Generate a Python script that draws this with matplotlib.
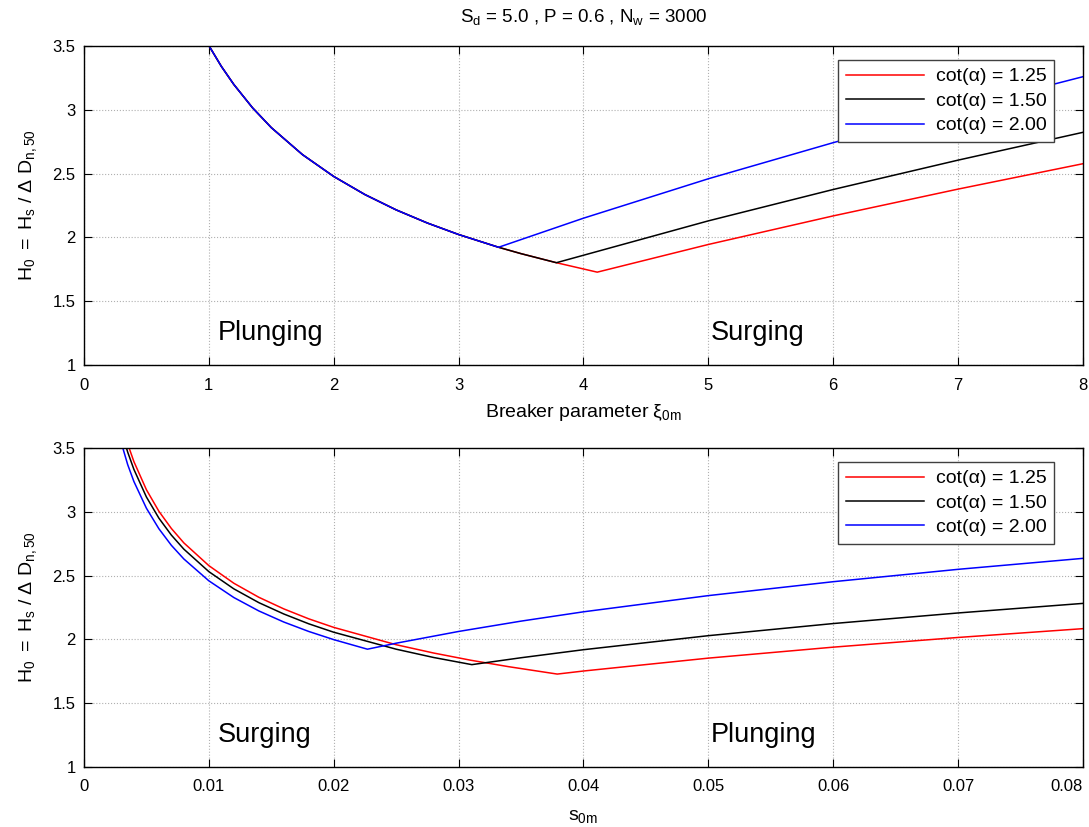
import numpy as np
import matplotlib
matplotlib.use("Agg")
import matplotlib.pyplot as plt
from matplotlib.ticker import FormatStrFormatter, FuncFormatter

plt.rcParams['font.family'] = ['Liberation Sans', 'DejaVu Sans']
plt.rcParams['mathtext.fontset'] = 'custom'
plt.rcParams['mathtext.rm'] = 'Liberation Sans'
plt.rcParams['mathtext.it'] = 'Liberation Sans:italic'

# ---------------------------
# data
# ---------------------------
labels = ['cot(α) = 1.25', 'cot(α) = 1.50', 'cot(α) = 2.00']
colors = ['red', 'black', 'blue']

# top panel: H0 against breaker parameter xi_0m
xi_plunge = [1.0, 1.1, 1.2, 1.35, 1.5, 1.75, 2.0, 2.25, 2.5, 2.75, 3.0, 3.32, 3.5, 3.783, 4.11]
h_plunge = [3.504, 3.341, 3.199, 3.016, 2.861, 2.649, 2.478, 2.336, 2.216, 2.113, 2.023, 1.923, 1.873, 1.802, 1.728]

xi_red = [4.11, 5.0, 6.0, 7.0, 8.0]
h_red = [1.728, 1.945, 2.169, 2.379, 2.578]
xi_black = [3.783, 5.0, 6.0, 7.0, 8.0]
h_black = [1.802, 2.130, 2.376, 2.606, 2.824]
xi_blue = [3.32, 4.0, 5.0, 6.0, 7.0, 8.0]
h_blue = [1.923, 2.151, 2.460, 2.743, 3.009, 3.260]

# bottom panel: H0 against wave steepness s_0m
s_red = [0.0035, 0.004, 0.005, 0.006, 0.007, 0.008, 0.010, 0.012, 0.014, 0.016, 0.018,
         0.020, 0.025, 0.028, 0.031, 0.034, 0.0379, 0.04, 0.05, 0.06, 0.07, 0.08]
hs_red = [3.532, 3.393, 3.173, 3.004, 2.869, 2.756, 2.578, 2.440, 2.330, 2.239, 2.161,
          2.094, 1.958, 1.893, 1.836, 1.786, 1.728, 1.752, 1.853, 1.939, 2.015, 2.084]
s_black = [0.003, 0.0035, 0.004, 0.005, 0.006, 0.007, 0.008, 0.010, 0.012, 0.014, 0.016,
           0.018, 0.020, 0.025, 0.028, 0.03106, 0.035, 0.04, 0.05, 0.06, 0.07, 0.08]
hs_black = [3.632, 3.468, 3.332, 3.116, 2.950, 2.817, 2.707, 2.531, 2.396, 2.288, 2.199,
            2.122, 2.056, 1.923, 1.858, 1.802, 1.856, 1.919, 2.029, 2.124, 2.207, 2.282]
s_blue = [0.0028, 0.0035, 0.004, 0.005, 0.006, 0.007, 0.008, 0.010, 0.012, 0.014, 0.016,
          0.018, 0.020, 0.0227, 0.025, 0.03, 0.035, 0.04, 0.05, 0.06, 0.07, 0.08]
hs_blue = [3.604, 3.370, 3.237, 3.028, 2.867, 2.737, 2.630, 2.459, 2.328, 2.223, 2.136,
           2.062, 1.998, 1.923, 1.970, 2.062, 2.143, 2.216, 2.343, 2.452, 2.549, 2.635]

ylab = r'$\mathregular{H_0\ =\ H_s\ /\ \Delta\ D_{n,50}}$'

fig = plt.figure(figsize=(10.89, 8.27), dpi=100)
ax1 = fig.add_axes([0.0771, 0.5586, 0.9174, 0.3857])
ax2 = fig.add_axes([0.0771, 0.0726, 0.9174, 0.3857])

# top panel
top_x = [xi_plunge + xi_red[1:], xi_plunge[:-1] + xi_black, xi_plunge[:12] + xi_blue[1:]]
top_y = [h_plunge + h_red[1:], h_plunge[:-1] + h_black, h_plunge[:12] + h_blue[1:]]
for xs, ys, c, lab in zip(top_x, top_y, colors, labels):
    ax1.plot(xs, ys, color=c, lw=1.1, label=lab)

# bottom panel
for xs, ys, c, lab in zip([s_red, s_black, s_blue], [hs_red, hs_black, hs_blue], colors, labels):
    ax2.plot(xs, ys, color=c, lw=1.1, label=lab)

ax1.set_xlim(0, 8)
ax1.set_xticks(np.arange(0, 9, 1))
ax2.set_xlim(0, 0.08)
ax2.set_xticks(np.arange(0, 0.081, 0.01))
ax2.xaxis.set_major_formatter(FuncFormatter(lambda v, p: f'{v:.2f}'.rstrip('0').rstrip('.') if v else '0'))

for ax in (ax1, ax2):
    ax.set_ylim(1, 3.5)
    ax.set_yticks([1, 1.5, 2, 2.5, 3, 3.5])
    ax.yaxis.set_major_formatter(FormatStrFormatter('%g'))
    ax.grid(True, linestyle=':', color='#b0b0b0', lw=0.8)
    ax.tick_params(direction='in', top=True, right=True, labelsize=12, length=6)
    ax.tick_params(axis='x', pad=9)
    ax.tick_params(axis='y', pad=6)
    ax.set_ylabel(ylab, fontsize=14, labelpad=10)
    leg = ax.legend(loc='upper right', bbox_to_anchor=(0.971, 0.956), borderaxespad=0,
                    fontsize=14, fancybox=False, framealpha=1, edgecolor='#404040',
                    handlelength=4.0, labelspacing=0.35, borderpad=0.4, handletextpad=0.6)
    leg.get_frame().set_linewidth(1.0)
    for sp in ax.spines.values():
        sp.set_linewidth(1.0)

fig.canvas.draw()
last = ax2.get_xticklabels()[-1]
last.set_horizontalalignment('right')
last.set_x(0.0802)

ax1.set_xlabel(r'Breaker parameter $\mathregular{\xi_{0m}}$', fontsize=14, labelpad=7)
ax2.set_xlabel(r'$\mathregular{s_{0m}}$', fontsize=14, labelpad=10)
ax1.set_title(r'$\mathregular{S_d}$ = 5.0 , P = 0.6 , $\mathregular{N_w}$ = 3000', fontsize=13.5, pad=17)

ax1.text(1.07, 1.25, 'Plunging', fontsize=19.5, va='center')
ax1.text(5.02, 1.25, 'Surging', fontsize=19.5, va='center')
ax2.text(0.0107, 1.25, 'Surging', fontsize=19.5, va='center')
ax2.text(0.0502, 1.25, 'Plunging', fontsize=19.5, va='center')

fig.savefig('out.png', dpi=100)
